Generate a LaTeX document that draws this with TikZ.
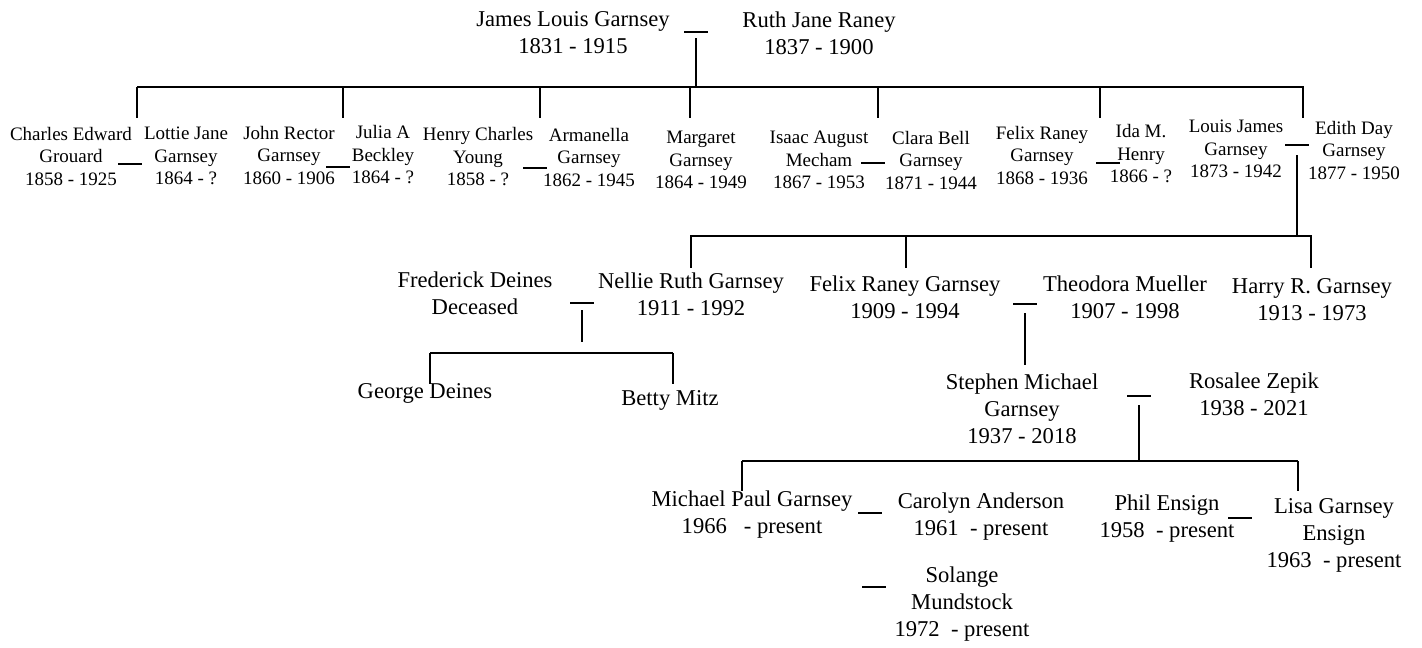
\documentclass[tikz,border=0pt]{standalone}
\usepackage{fontspec}
\setmainfont{Liberation Serif}

\begin{document}
\begin{tikzpicture}[x=1pt,y=-1pt,
    link/.style={line width=1.8pt},
    person/.style={align=center,inner sep=0pt,font=\fontsize{22.6}{27}\selectfont},
    sibling/.style={align=center,inner sep=0pt,font=\fontsize{19}{22.5}\selectfont}]
  \useasboundingbox (0,0) rectangle (1422,648);

  % first couple
  \node[person] (jlg) at (573,33) {James Louis Garnsey\\1831 - 1915};
  \node[person] (rjr) at (819,33) {Ruth Jane Raney\\1837 - 1900};

  % children and their spouses
  \foreach \n/\x/\y/\txt in {
    ceg/71/156/{Charles Edward\\Grouard\\1858 - 1925},
    ljg/186/156/{Lottie Jane\\Garnsey\\1864 - ?},
    jrg/289/155/{John Rector\\Garnsey\\1860 - 1906},
    jab/383/155/{Julia A\\Beckley\\1864 - ?},
    hcy/478/157/{Henry Charles\\Young\\1858 - ?},
    arg/589/157/{Armanella\\Garnsey\\1862 - 1945},
    mag/701/160/{Margaret\\Garnsey\\1864 - 1949},
    iam/819/160/{Isaac August\\Mecham\\1867 - 1953},
    cbg/931/160/{Clara Bell\\Garnsey\\1871 - 1944},
    frg/1042/155/{Felix Raney\\Garnsey\\1868 - 1936},
    imh/1141/154/{Ida M.\\Henry\\1866 - ?},
    lig/1236/149/{Louis James\\Garnsey\\1873 - 1942},
    edg/1354/150/{Edith Day\\Garnsey\\1877 - 1950}}
    \node[sibling] (\n) at (\x,\y) {\txt};

  % grandchildren and later
  \foreach \n/\x/\y/\txt in {
    fde/475/293/{Frederick Deines\\Deceased},
    nrg/691/294/{Nellie Ruth Garnsey\\1911 - 1992},
    fxg/905/297/{Felix Raney Garnsey\\1909 - 1994},
    tmu/1125/297/{Theodora Mueller\\1907 - 1998},
    hrg/1312/300/{Harry R. Garnsey\\1913 - 1973},
    gde/425/393/{George Deines},
    bmi/670/400/{Betty Mitz},
    smg/1022/409/{Stephen Michael\\Garnsey\\1937 - 2018},
    rze/1254/394/{Rosalee Zepik\\1938 - 2021},
    mpg/752/515/{Michael Paul Garnsey\\1966~~~- present},
    can/981/517/{Carolyn Anderson\\1961~~- present},
    pen/1167/519/{Phil Ensign\\1958~~- present},
    lge/1334/535/{Lisa Garnsey\\Ensign\\1963~~- present},
    smu/962/604/{Solange\\Mundstock\\1972~~- present}}
    \node[person] (\n) at (\x,\y) {\txt};

  % marriage dashes
  \foreach \n/\x/\y in {m0/696/32, m1/130/164, m2/338/167, m3/535/168,
      m4/873/163, m5/1108/163, mle/1297/145, mfn/582/303, mft/1025/304,
      msr/1139/396, mmc/870/513, mpl/1240/518, msol/874/587} {
    \coordinate (\n) at (\x,\y);
    \draw[link] ([xshift=-12pt]\n) -- ([xshift=12pt]\n);
  }

  % sibling bars
  \coordinate (b0w) at (137,87);  \coordinate (b0e) at (1304,87);
  \coordinate (b1w) at (690,236); \coordinate (b1e) at (1312,236);
  \coordinate (b2w) at (430,353); \coordinate (b2e) at (673,353);
  \coordinate (b3w) at (742,461); \coordinate (b3e) at (1298,461);
  \foreach \a/\b in {b0w/b0e, b1w/b1e, b2w/b2e, b3w/b3e}
    \draw[link] (\a) -- (\b);

  % lines from a couple down to the bar
  \draw[link] ([yshift=-6pt]m0) -- (m0 |- b0w);
  \draw[link] ([yshift=-10pt]mle) -- (mle |- b1w);
  \draw[link] ([yshift=-7pt]mfn) -- ([yshift=-39pt]mfn);
  \draw[link] ([yshift=-9pt]mft) -- ([yshift=-61pt]mft);
  \draw[link] ([yshift=-9pt]msr) -- (msr |- b3w);

  % drops from each bar
  \coordinate (lv2) at (0,118);
  \coordinate (lv3) at (0,268);
  \coordinate (lv4) at (0,384);
  \coordinate (lv5) at (0,491);
  \foreach \n/\x/\bar/\lv in {
    c1/137/b0w/lv2, c2/343/b0w/lv2, c3/540/b0w/lv2, c4/690/b0w/lv2,
    c5/878/b0w/lv2, c6/1100/b0w/lv2, c7/1303/b0w/lv2,
    c8/691/b1w/lv3, c9/906/b1w/lv3, c10/1311/b1w/lv3,
    c11/430/b2w/lv4, c12/673/b2w/lv4,
    c13/742/b3w/lv5, c14/1298/b3w/lv5} {
    \coordinate (\n) at (\x,0);
    \draw[link] (\n |- \bar) -- (\n |- \lv);
  }
\end{tikzpicture}
\end{document}
